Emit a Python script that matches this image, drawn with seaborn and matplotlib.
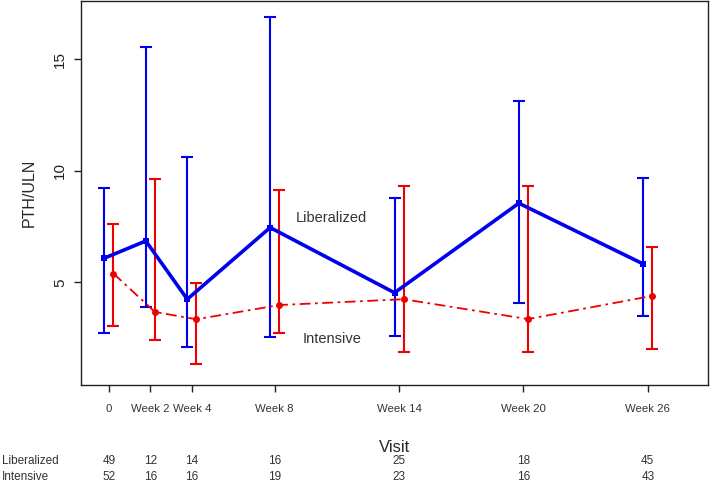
"""
PTH/ULN by visit, liberalized vs intensive
"""

import numpy as np
import seaborn as sns
import matplotlib.pyplot as plt
import pandas as pd

weeks = [0, 2, 4, 8, 14, 20, 26]
visit_labels = ['0', 'Week 2', 'Week 4', 'Week 8', 'Week 14', 'Week 20', 'Week 26']

lib_mean = [6.08, 6.85, 4.24, 7.45, 4.53, 8.54, 5.82]
lib_low = [2.74, 3.91, 2.11, 2.56, 2.61, 4.07, 3.49]
lib_high = [9.22, 15.56, 10.63, 16.87, 8.78, 13.13, 9.65]

int_mean = [5.39, 3.67, 3.34, 3.98, 4.24, 3.35, 4.39]
int_low = [3.05, 2.41, 1.32, 2.74, 1.89, 1.89, 2.01]
int_high = [7.60, 9.62, 4.98, 9.13, 9.33, 9.33, 6.57]

n_lib = [49, 12, 14, 16, 25, 18, 45]
n_int = [52, 16, 16, 19, 23, 16, 43]

sns.set_theme(style="ticks")
plt.rcParams['font.family'] = ['Liberation Sans', 'DejaVu Sans']

fig = plt.figure(figsize=(7.1, 4.83), dpi=100)
ax = fig.add_axes([0.114, 0.203, 0.883, 0.795])

shift = 0.22
lib = pd.DataFrame({'week': np.array(weeks) - shift, 'mean': lib_mean})
inte = pd.DataFrame({'week': np.array(weeks) + shift, 'mean': int_mean})

# error bars
ax.errorbar(lib['week'], lib['mean'],
            yerr=[np.array(lib_mean) - lib_low, np.array(lib_high) - lib_mean],
            fmt='none', ecolor='#0000ee', elinewidth=1.5, capsize=4.4, capthick=1.5, zorder=2)
ax.errorbar(inte['week'], inte['mean'],
            yerr=[np.array(int_mean) - int_low, np.array(int_high) - int_mean],
            fmt='none', ecolor='#ee0000', elinewidth=1.5, capsize=4.4, capthick=1.5, zorder=2)

# mean lines
sns.lineplot(data=lib, x='week', y='mean', ax=ax, color='#0000ee', lw=2.6,
             marker='s', markersize=5, markeredgewidth=0, zorder=3)
sns.lineplot(data=inte, x='week', y='mean', ax=ax, color='#ee0000', lw=1.3,
             linestyle=(0, (6, 2.5, 1.5, 2.5)), marker='o', markersize=5,
             markeredgewidth=0, zorder=3)

ax.text(9.0, 7.88, 'Liberalized', fontsize=10.5, color='#333333', va='center')
ax.text(9.36, 2.44, 'Intensive', fontsize=10.5, color='#333333', va='center')

ax.set_xlim(-1.35, 28.9)
ax.set_ylim(0.4, 17.6)
ax.set_xticks(weeks)
ax.set_xticklabels(visit_labels, fontsize=8.2, color='#333333')
ax.set_yticks([5, 10, 15])
ax.set_yticklabels(['5', '10', '15'], fontsize=11, rotation=90, va='center', color='#222222')
ax.tick_params(axis='both', length=5, width=1, color='#222222')
ax.tick_params(axis='x', pad=9)
ax.tick_params(axis='y', pad=5)
ax.set_xlabel('')
ax.set_ylabel('PTH/ULN', fontsize=11.5, labelpad=12)
for s in ax.spines.values():
    s.set_color('#222222')
    s.set_linewidth(1.0)

# numbers at risk table
fig.text(395 / 710, 1 - 447 / 483, 'Visit', fontsize=12, ha='center', va='center')
for row, (name, counts) in enumerate([('Liberalized', n_lib), ('Intensive', n_int)]):
    ypos = 1 - (461 + row * 16.5) / 483
    fig.text(2 / 710, ypos, name, fontsize=8.5, color='#333333', va='center')
    for wk, n in zip(weeks, counts):
        xpix = ax.transData.transform((wk, 0))[0]
        fig.text(xpix / 710, ypos, str(n), fontsize=8.5, color='#333333',
                 ha='center', va='center')

plt.savefig('out.png', dpi=100)
